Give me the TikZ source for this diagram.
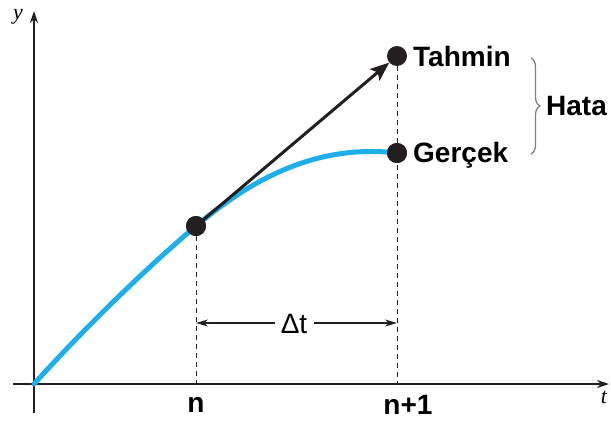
\documentclass[tikz,border=0pt]{standalone}
\usepackage{fontspec}
\setmainfont{Liberation Sans}
\newfontfamily\serifit{Liberation Serif}
\usetikzlibrary{arrows.meta,decorations.pathreplacing}
\definecolor{axisgray}{HTML}{231F20}
\definecolor{curveblue}{HTML}{1EAEEA}
\begin{document}
\begin{tikzpicture}[x=1pt,y=-1pt,
  axis/.style={draw=axisgray,line width=1.3pt,-{Stealth[length=12pt,width=8pt]}},
  guide/.style={draw=axisgray,line width=0.9pt,dashed,dash pattern=on 5pt off 4pt},
  dot/.style={circle,fill=axisgray,inner sep=0pt,minimum size=20pt},
  lbl/.style={font=\fontsize{28}{32}\selectfont\bfseries,inner sep=0pt},
  dim/.style={draw=axisgray,line width=1.1pt,-{Stealth[length=12pt,width=7pt]}}]
\useasboundingbox (0,0) rectangle (611,421);
% axes
\coordinate (xs) at (13,384);
\coordinate (xe) at (609,384);
\coordinate (ys) at (34,413);
\coordinate (ye) at (34,11);
\draw[axis] (xs) -- (xe);
\draw[axis] (ys) -- (ye);
\node[font=\fontsize{22}{24}\selectfont\serifit\itshape,inner sep=0pt] (ylab) at (18,17) {y};
\node[font=\fontsize{22}{24}\selectfont\serifit\itshape,inner sep=0pt] (tlab) at (604,397) {t};
% points
\coordinate (o) at (34,384);
\node[dot] (pn) at (196,226) {};
\node[dot] (pt) at (397,56) {};
\node[dot] (pg) at (397,153) {};
\coordinate (an) at (196,384);
\coordinate (an1) at (397,384);
% dashed guides
\draw[guide] (pn) -- (an);
\draw[guide] (pt) -- (an1);
% blue curve
\draw[curveblue,line width=5pt,line cap=round] (o) .. controls (90,322) and (150,265) .. (pn.center)
  .. controls (255,176) and (320,144) .. (pg.center);
% redraw dots on top
\node[dot] at (pn) {};
\node[dot] at (pg) {};
% prediction arrow
\draw[axisgray,line width=3pt,-{Stealth[length=19pt,width=15pt,inset=4pt]}] (pn.center) -- (pt);
% labels
\node[lbl,anchor=west] (tah) at (413,56) {Tahmin};
\node[lbl,anchor=west] (ger) at (413,155) {Gerçek};
\node[lbl] (ln) at (196,405) {n};
\node[lbl] (ln1) at (408,405) {n+1};
% brace
\coordinate (bt) at (531,58);
\coordinate (bb) at (531,154);
\draw[draw=gray,line width=1.3pt,decorate,decoration={brace,amplitude=9pt}] (bt) -- (bb);
\node[lbl,anchor=west] (hata) at (546,106) {Hata};
% delta t
\node[font=\fontsize{28}{32}\selectfont,inner sep=0pt] (dt) at (294,324) {Δt};
\coordinate (dl) at (196,323);
\coordinate (dr) at (397,323);
\draw[dim] (275,323) -- (dl);
\draw[dim] (314,323) -- (dr);
\end{tikzpicture}
\end{document}
